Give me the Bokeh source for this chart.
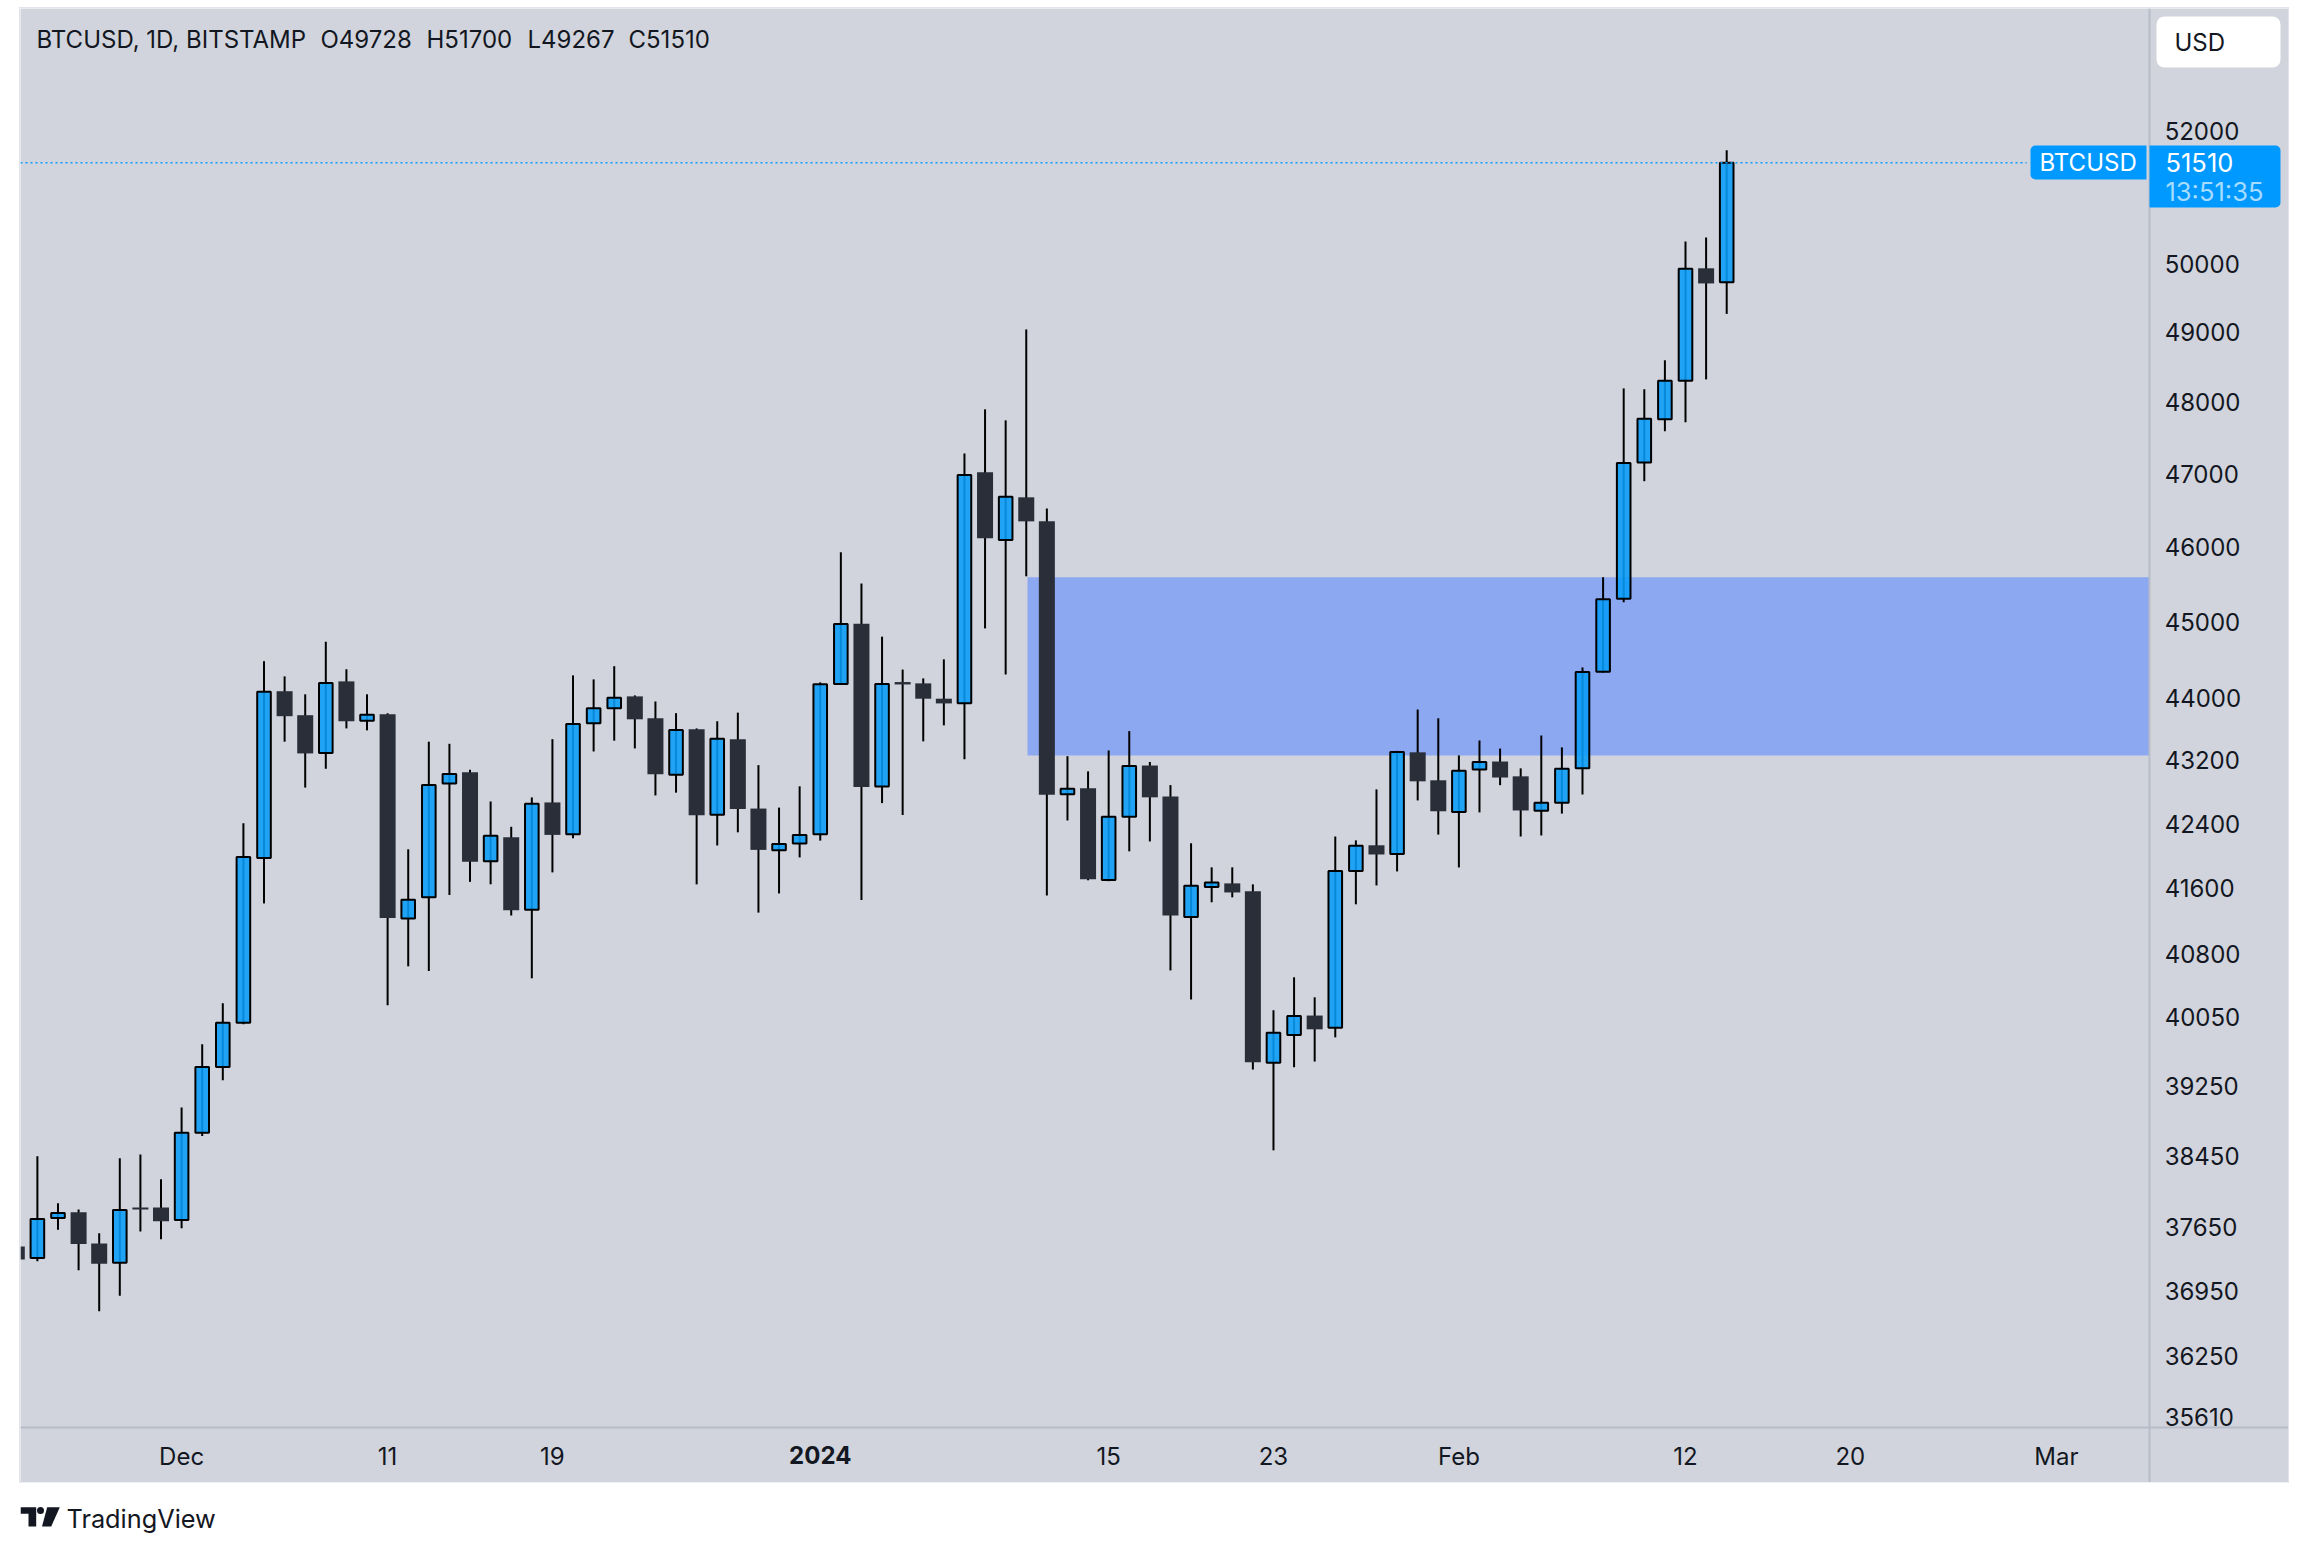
from bokeh.embed import file_html
from bokeh.layouts import column
from bokeh.models import BoxAnnotation, FixedTicker, Label, NumeralTickFormatter, Range1d
from bokeh.plotting import figure
from bokeh.resources import INLINE

# daily candles, 2023-11-23 to 2024-02-14, day 0 is Dec 1
days = list(range(-8, 76))
opens = [37438, 37312, 37752, 37816, 37472, 37259, 37869, 37869,
         37730, 38713, 39469, 39986, 41975, 44087, 43777, 43292, 44215, 43705, 43790, 41235, 41491, 42905, 43048, 41934,
         42231, 41339, 42667, 42268, 43672, 43868, 44020, 43737, 43015, 43595, 42512, 43469, 42590, 42069, 42153,
         42269, 44182, 44973, 42867, 44206, 44189, 43990, 43932, 47022, 46093, 46677, 46348, 42770, 42844, 41705, 42486,
         43133, 42743, 41253, 41618, 41662, 41565, 39520, 39843, 40072, 39928, 41815, 42132, 42023, 43301, 42946,
         42547, 43082, 43184, 42996, 42561, 42662, 43097, 44340, 45305, 47159, 47764, 48306, 49933, 49728]
highs = [37460, 38446, 37917, 37849, 37583, 38424, 38467, 38187,
         39003, 39734, 40217, 42405, 44479, 44280, 44047, 44734, 44373, 44047, 43803, 42082, 43437, 43410, 43079, 42679,
         42362, 42730, 43469, 44293, 44241, 44413, 44033, 43954, 43803, 43607, 43699, 43810, 43138, 42602, 42870,
         44202, 45928, 45509, 44801, 44369, 44254, 44503, 47284, 47902, 47747, 49042, 46524, 43252, 43059, 43325, 43572,
         43178, 42885, 42157, 41859, 41859, 41650, 40135, 40526, 40288, 42241, 42193, 42831, 43320, 43850, 43737,
         43262, 43452, 43349, 43097, 43516, 43364, 44397, 45592, 48198, 48186, 48599, 50329, 50388, 51700]
lows = [37270, 37275, 37624, 37176, 36732, 36898, 37603, 37518,
        37640, 38675, 39315, 39970, 41417, 43437, 42854, 43092, 43607, 43582, 40195, 40657, 40601, 41520, 41681, 41651,
        41270, 40514, 41797, 42219, 43312, 43450, 43351, 42755, 42790, 41650, 42130, 42293, 41305, 41539, 41982,
        42190, 44170, 41458, 42658, 42509, 43441, 43646, 43212, 44910, 44305, 45604, 41513, 42441, 41700, 41689, 42057,
        42180, 40608, 40262, 41431, 41491, 39440, 38513, 39467, 39533, 39816, 41406, 41637, 41809, 42692, 42265,
        41858, 42542, 42884, 42241, 42254, 42527, 42767, 44330, 45257, 46899, 47594, 47720, 48326, 49267]
closes = [37296, 37741, 37810, 37465, 37249, 37842, 37848, 37716,
          38713, 39469, 39986, 41987, 44080, 43764, 43287, 44193, 43699, 43783, 41241, 41462, 42886, 43027, 41928, 42249,
          41334, 42650, 42261, 43665, 43868, 44001, 43724, 43021, 43587, 42506, 43475, 42585, 42075, 42148, 42261,
          44177, 44967, 42862, 44182, 44175, 43990, 43929, 46985, 46117, 46684, 46348, 42765, 42839, 41712, 42486, 43127,
          42731, 41269, 41634, 41673, 41551, 39525, 39869, 40068, 39910, 41815, 42127, 42018, 43305, 42933, 42556,
          43068, 43179, 42981, 42566, 42662, 43092, 44337, 45298, 47152, 47771, 48306, 49927, 49711, 51510]

price_ticks = [52000, 50000, 49000, 48000, 47000, 46000, 45000, 44000, 43200, 42400,
               41600, 40800, 40050, 39250, 38450, 37650, 36950, 36250, 35610]
tick_days = [0, 10, 18, 31, 45, 53, 62, 73, 81, 91]
tick_labels = ["Dec", "11", "19", "", "15", "23", "Feb", "12", "20", "Mar"]
year_day = 31
year_label = "2024"

zone_left = 41.06
zone_top = 45590
zone_bottom = 43262
last_price = 51510
price_line_end = 89.56

# the frame covers the whole panel, the axes sit inside it at these spots
x_start, x_end = -7.82, 102.27
y_start, y_end = 34925, 53902
x_axis_at = 95.53
y_axis_at = 35495

BG = "#d1d4dc"
RULE = "#b8bcc8"
INK = "#131722"
TAG = "#0099ff"
FONT = "Inter"
SIZE = "24px"


def label(fig, x, y, text, color=INK, **kw):
    fig.add_layout(Label(x=x, y=y, x_units="canvas", y_units="canvas", text=text, text_color=color,
                         text_font=FONT, text_font_size=kw.pop("size", SIZE), text_baseline="middle", **kw))


def box(fig, left, right, top, bottom, color, radius=0):
    fig.add_layout(BoxAnnotation(left=left, right=right, top=top, bottom=bottom, left_units="canvas",
                                 right_units="canvas", top_units="canvas", bottom_units="canvas",
                                 fill_color=color, fill_alpha=1, line_color=None, border_radius=radius))


p = figure(width=2268, height=1474, output_backend="svg", toolbar_location=None,
           y_axis_type="log", y_axis_location="right",
           x_range=Range1d(x_start, x_end), y_range=Range1d(y_start, y_end),
           min_border=0, background_fill_color=BG, border_fill_color=BG, outline_line_color=None,
           styles={"outline": "1px solid #e0e3eb"})
p.grid.visible = False

p.xaxis.ticker = FixedTicker(ticks=tick_days)
p.xaxis.major_label_overrides = dict(zip(tick_days, tick_labels))
p.xaxis.fixed_location = y_axis_at
p.yaxis.ticker = FixedTicker(ticks=price_ticks)
p.yaxis.formatter = NumeralTickFormatter(format="0")
p.yaxis.fixed_location = x_axis_at
for ax in (p.xaxis, p.yaxis):
    ax.axis_line_color = RULE
    ax.axis_line_width = 2
    ax.major_tick_line_color = None
    ax.minor_tick_line_color = None
    ax.major_tick_out = 0
    ax.major_label_text_font = FONT
    ax.major_label_text_font_size = SIZE
    ax.major_label_text_color = INK
p.xaxis.major_label_standoff = 14
p.yaxis.major_label_standoff = 15

p.quad(left=zone_left, right=x_axis_at, top=zone_top, bottom=zone_bottom, fill_color="#8ba8f0", line_color=None)

p.segment(days, highs, days, lows, line_color="black", line_width=2)

up = [i for i in range(len(days)) if closes[i] >= opens[i]]
down = [i for i in range(len(days)) if closes[i] < opens[i]]
p.vbar(x=[days[i] for i in down], top=[opens[i] for i in down], bottom=[closes[i] for i in down],
       width=0.777, fill_color="#2a2e39", line_color=None)
p.vbar(x=[days[i] for i in up], top=[closes[i] for i in up], bottom=[opens[i] for i in up],
       width=0.66, fill_color="#089cf8", fill_alpha=0.88, line_color="black", line_width=2)

p.segment([x_start], [last_price], [price_line_end], [last_price], line_color="#089cff", line_width=1.5, line_dash="2 3")

# price tags and currency button
box(p, 2010, 2126, 137, 171, TAG, (5, 0, 0, 5))
box(p, 2129, 2260, 137, 199, TAG, (0, 5, 5, 0))
box(p, 2136, 2260, 8, 59, "white", 8)

label(p, 2154, 33.5, "USD")
label(p, 2019, 153.5, "BTCUSD", color="white")
label(p, 2145, 153.5, str(last_price), color="white", size="25.5px")
label(p, 2145, 183, "13:51:35", color="#a6dcff", size="25.5px")
label(p, 16, 31, "BTCUSD, 1D, BITSTAMP")
label(p, 300, 31, "O49728")
label(p, 406, 31, "H51700")
label(p, 507, 31, "L49267")
label(p, 608, 31, "C51510")

p.add_layout(Label(x=year_day, y=1446, x_units="data", y_units="canvas", text=year_label, text_color=INK,
                   text_font=FONT, text_font_size=SIZE, text_font_style="bold", text_align="center",
                   text_baseline="middle"))

# footer strip with the logo
foot = figure(width=2268, height=62, output_backend="svg", toolbar_location=None,
              x_range=Range1d(0, 2268), y_range=Range1d(62, 0), min_border=0,
              outline_line_color=None, border_fill_color="white", background_fill_color="white")
foot.axis.visible = False
foot.grid.visible = False
foot.patch([0, 15.7, 15.7, 8, 8, 0], [24.7, 24.7, 44, 44, 31.3, 31.3], fill_color=INK, line_color=None)
foot.circle(x=[20], y=[28], radius=3.5, fill_color=INK, line_color=None)
foot.patch([26.7, 39.3, 30.7, 21.5], [24.7, 24.7, 44, 44], fill_color=INK, line_color=None)
label(foot, 46, 36, "TradingView", size="25.3px")

# file_html zeroes the body margin, so the offset goes on the column
layout = column(p, foot, margin=(8, 0, 0, 20), spacing=0)
open("out.html", "w").write(file_html(layout, INLINE))
